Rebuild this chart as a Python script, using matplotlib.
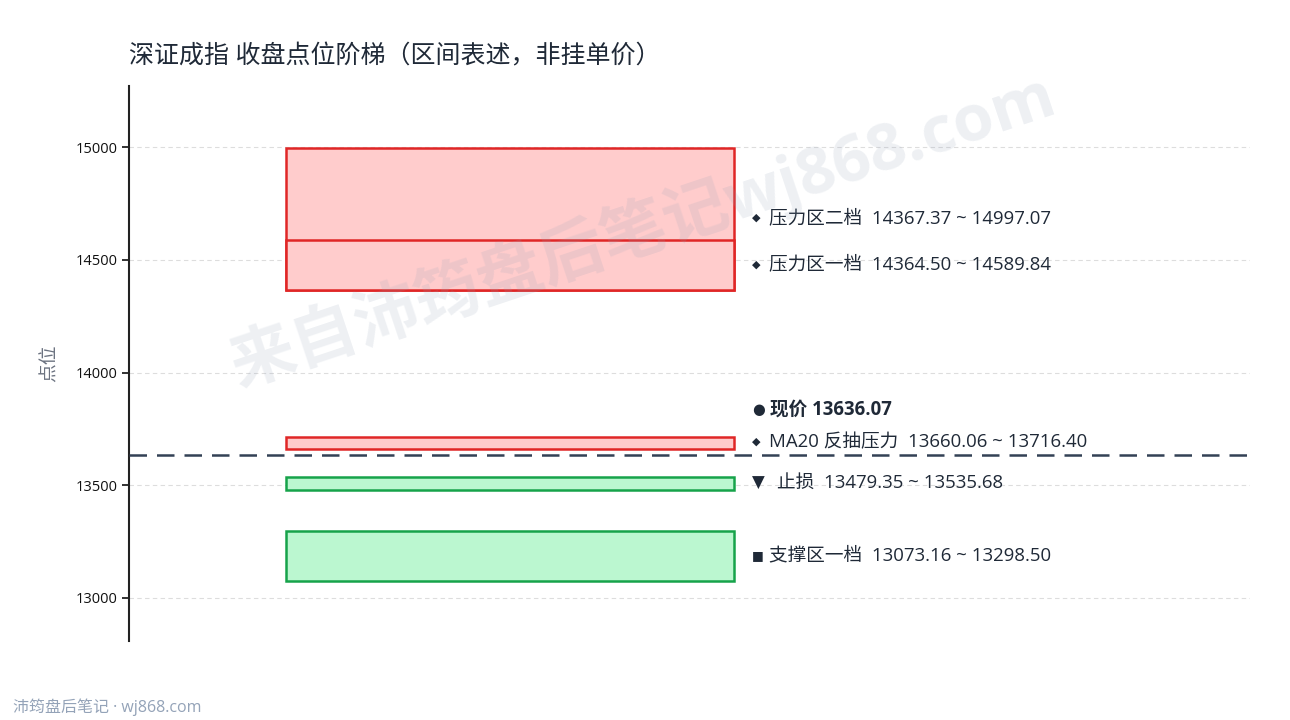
import matplotlib
matplotlib.use("Agg")
import matplotlib.pyplot as plt
from matplotlib.patches import Rectangle

plt.rcParams['font.family'] = ['Open Sans', 'Noto Sans CJK SC', 'DejaVu Sans']
plt.rcParams['axes.unicode_minus'] = False

# zone data (low, high)
zone_names = ["压力区二档", "压力区一档", "MA20 反抽压力", "止损", "支撑区一档"]
zone_low = [14367.37, 14364.50, 13660.06, 13479.35, 13073.16]
zone_high = [14997.07, 14589.84, 13716.40, 13535.68, 13298.50]
zone_kind = ["red", "red", "red", "green", "green"]
zone_mark = ["◆", "◆", "◆", "▼", "■"]
price_now = 13636.07

yticks = [13000, 13500, 14000, 14500, 15000]

FILL = {"red": "#ffcccc", "green": "#bbf7d0"}
EDGE = {"red": "#e02626", "green": "#16a34a"}
DARK = "#1f2937"
SYM = ['DejaVu Sans']

fig = plt.figure(figsize=(12.9, 7.2), dpi=100, facecolor="white")
ax = fig.add_axes([0.1, 0.11, 0.869, 0.77])

x0, x1 = 0.14, 0.54
for name, lo, hi, k, m in zip(zone_names, zone_low, zone_high, zone_kind, zone_mark):
    ax.add_patch(Rectangle((x0, lo), x1 - x0, hi - lo, facecolor=FILL[k],
                           edgecolor=EDGE[k], linewidth=1.8, zorder=3))
    ymid = (lo + hi) / 2 + 4
    if m == "◆":
        ax.text(0.5555, ymid, m, fontsize=8, color=DARK, va="center",
                ha="left", family=SYM, zorder=5)
        tx = 0.571
    elif m == "▼":
        ax.text(0.5555, ymid, m, fontsize=12, color=DARK, va="center",
                ha="left", family=SYM, zorder=5)
        tx = 0.578
    else:
        ax.text(0.5555, ymid, m, fontsize=9, color=DARK, va="center",
                ha="left", family=SYM, zorder=5)
        tx = 0.571
    ax.text(tx, ymid, "%s  %.2f ~ %.2f" % (name, lo, hi),
            fontsize=13.4, color=DARK, va="center", ha="left", zorder=5)

# current price
ax.axhline(price_now, color="#334155", linewidth=1.8, linestyle=(0, (7, 4)), zorder=4)
ax.text(0.5555, price_now + 200, "●", fontsize=10.5, color=DARK, va="center",
        ha="left", family=SYM, zorder=5)
ax.text(0.572, price_now + 200, "现价 %.2f" % price_now, fontsize=13.4,
        fontweight="bold", color=DARK, va="center", ha="left", zorder=5)

ax.set_xlim(0, 1)
ax.set_ylim(12810, 15270)
ax.set_yticks(yticks)
ax.set_yticklabels([str(v) for v in yticks], fontsize=10.5, color="#111111")
ax.set_xticks([])
ax.grid(axis="y", color="#dddddd", linestyle=(0, (4, 3)), linewidth=0.8, zorder=0)
for s in ["top", "right", "bottom"]:
    ax.spines[s].set_visible(False)
ax.spines["left"].set_color("#222222")
ax.spines["left"].set_linewidth(1.5)
ax.tick_params(axis="y", length=5, width=1.3, color="#222222")
ax.set_ylabel("点位", fontsize=13.5, color="#6b7280", labelpad=12)

fig.text(0.1, 0.921, "深证成指 收盘点位阶梯（区间表述，非挂单价）",
         fontsize=18, color=DARK, ha="left", va="center")

# watermark
fig.text(0.498, 0.68, "来自沛筠盘后笔记wj868.com", fontsize=47, fontweight="bold",
         color="#94a3b8", alpha=0.16, rotation=18.5, ha="center", va="center",
         zorder=10)

# footer
fig.text(0.01, 0.018, "沛筠盘后笔记 · wj868.com", fontsize=11.5,
         color="#94a3b8", ha="left", va="center")

fig.savefig("out.png", dpi=100)
